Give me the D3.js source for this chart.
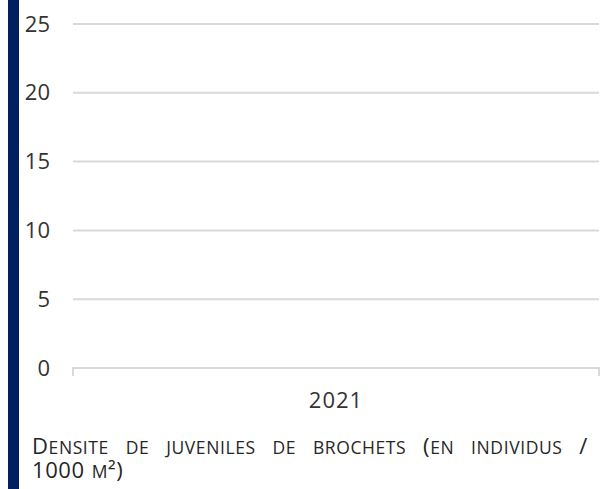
<!DOCTYPE html>
<html>
<head>
<meta charset="utf-8">
<script src="https://cdn.jsdelivr.net/npm/d3@7"></script>
<style>
  body { margin: 0; background: #fff; }
  svg { display: block; }
  svg text { font-family: "Open Sans", sans-serif; }
  .tick text { fill: #333; font-size: 22px; }
  .grid line { stroke: #d9d9d9; stroke-width: 2px; }
</style>
</head>
<body>
<div id="wrapper"></div>
<script>
// data
const categories = ["2021"]
const density = [0]          // no visible bar in the picture
const yTicks = [0, 5, 10, 15, 20, 25]
const captionLines = [
  ["Densite", "de", "juveniles", "de", "brochets", "(en", "individus", "/"],
  ["1000", "m²)"],
]

const dimensions = {
  width: 600,
  height: 489,
  margin: { top: 24, right: 1, bottom: 121, left: 73 },
}
dimensions.boundedWidth = dimensions.width - dimensions.margin.left - dimensions.margin.right
dimensions.boundedHeight = dimensions.height - dimensions.margin.top - dimensions.margin.bottom

const svg = d3.select("#wrapper")
  .append("svg")
    .attr("width", dimensions.width)
    .attr("height", dimensions.height)

// navy side bar
svg.append("rect")
    .attr("x", 8)
    .attr("y", 0)
    .attr("width", 11)
    .attr("height", dimensions.height)
    .attr("fill", "#002060")

const bounds = svg.append("g")
    .attr("transform", `translate(${dimensions.margin.left},${dimensions.margin.top})`)

// scales
const xScale = d3.scaleBand()
  .domain(categories)
  .range([0, dimensions.boundedWidth])
  .paddingInner(0.4)
  .paddingOuter(0.2)

const yScale = d3.scaleLinear()
  .domain([0, 25])
  .range([dimensions.boundedHeight, 0])

// gridlines
bounds.append("g")
    .attr("class", "grid")
  .selectAll("line")
  .data(yTicks.filter(d => d > 0))
  .join("line")
    .attr("x1", 0)
    .attr("x2", dimensions.boundedWidth)
    .attr("y1", d => yScale(d))
    .attr("y2", d => yScale(d))

// bars (empty series)
bounds.append("g")
  .selectAll("rect")
  .data(categories.map((c, i) => ({ c, v: density[i] })))
  .join("rect")
    .attr("x", d => xScale(d.c))
    .attr("width", xScale.bandwidth())
    .attr("y", d => yScale(d.v))
    .attr("height", d => yScale(0) - yScale(d.v))
    .attr("fill", "#4472c4")

// y axis labels
const yAxis = bounds.append("g")
  .call(d3.axisLeft(yScale).tickValues(yTicks).tickSize(0).tickPadding(23))
yAxis.attr("font-family", null).attr("font-size", null)
yAxis.select(".domain").remove()

// x axis
const xAxis = bounds.append("g")
    .attr("transform", `translate(0,${dimensions.boundedHeight})`)
  .call(d3.axisBottom(xScale).tickSize(0).tickPadding(24))
xAxis.attr("font-family", null).attr("font-size", null)
xAxis.selectAll(".tick text").style("letter-spacing", "1px")
xAxis.select(".domain").remove()

const xLine = bounds.append("g")
    .attr("class", "grid")
    .attr("transform", `translate(0,${dimensions.boundedHeight})`)
xLine.append("line")
    .attr("x1", -1)
    .attr("x2", dimensions.boundedWidth + 1)
xLine.selectAll(".edge")
  .data(d3.range(categories.length + 1).map(i => i * xScale.step()))
  .join("line")
    .attr("class", "edge")
    .attr("x1", d => d)
    .attr("x2", d => d)
    .attr("y1", 0)
    .attr("y2", 8)

// caption in small caps, first line justified
const bigSize = 22
const smallSize = 17.5
const captionLeft = 32
const captionRight = 588
const captionBaselines = [454, 478]

function appendWord(g, word) {
  const text = g.append("text")
      .attr("fill", "#262626")
      .style("letter-spacing", "0.6px")
  // group runs of characters that share the same size
  const runs = []
  for (const ch of word) {
    const small = ch !== ch.toUpperCase()
    const last = runs[runs.length - 1]
    if (last && last.small === small) last.s += ch
    else runs.push({ small, s: ch })
  }
  runs.forEach(r => {
    text.append("tspan")
        .attr("font-size", r.small ? smallSize : bigSize)
        .text(r.s.toUpperCase())
  })
  return text
}

const captionGroup = svg.append("g")
captionLines.forEach((words, li) => {
  const texts = words.map(w => appendWord(captionGroup, w))
  const widths = texts.map(t => t.node().getComputedTextLength())
  const total = d3.sum(widths)
  const gap = li < captionLines.length - 1
    ? (captionRight - captionLeft - total) / (words.length - 1)
    : 7
  let x = captionLeft
  texts.forEach((t, i) => {
    t.attr("x", x).attr("y", captionBaselines[li])
    x += widths[i] + gap
  })
})
</script>
</body>
</html>
